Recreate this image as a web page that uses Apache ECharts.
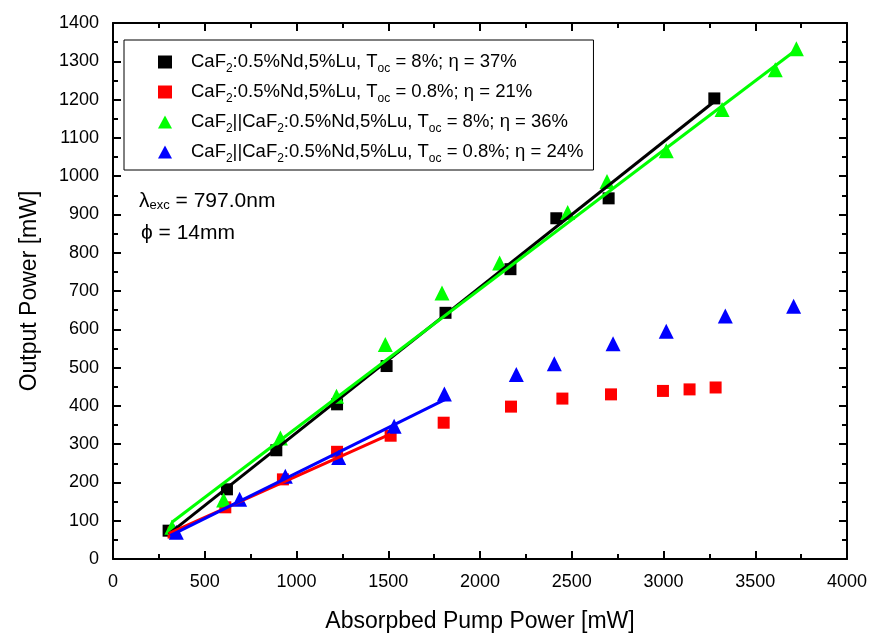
<!DOCTYPE html>
<html><head><meta charset="utf-8">
<script src="https://cdn.jsdelivr.net/npm/echarts@6/dist/echarts.min.js"></script>
<style>html,body{margin:0;padding:0;background:#fff}#c{width:872px;height:638px}</style>
</head><body><div id="c"></div>
<script>
// ---- data ----
var blackX = [303, 621, 890, 1221, 1491, 1812, 2166, 2416, 2701, 3277];
var blackY = [74, 182, 284, 404, 504, 643, 757, 890, 942, 1203];
var redX = [330, 612, 926, 1221, 1513, 1802, 2169, 2449, 2714, 2997, 3142, 3284];
var redY = [69, 135, 208, 280, 322, 356, 398, 419, 430, 439, 443, 448];
var greenX = [321, 603, 912, 1218, 1484, 1793, 2107, 2478, 2692, 3015, 3319, 3609, 3724];
var greenY = [83, 154, 316, 425, 560, 695, 773, 905, 986, 1066, 1174, 1278, 1333];
var blueX = [345, 690, 939, 1230, 1532, 1806, 2198, 2405, 2725, 3015, 3337, 3709];
var blueY = [70, 156, 216, 265, 347, 431, 482, 510, 562, 595, 635, 660];
// linear fits (endpoints)
var fitBlackX = [303, 3277], fitBlackY = [65, 1195];
var fitRedX = [303, 1511], fitRedY = [66, 326];
var fitGreenX = [321, 3724], fitGreenY = [96, 1330];
var fitBlueX = [312, 1811], fitBlueY = [61, 417];
var names = [
  'CaF{s|2}:0.5%Nd,5%Lu, T{s|oc} = 8%; η = 37%',
  'CaF{s|2}:0.5%Nd,5%Lu, T{s|oc} = 0.8%; η = 21%',
  'CaF{s|2}||CaF{s|2}:0.5%Nd,5%Lu, T{s|oc} = 8%; η = 36%',
  'CaF{s|2}||CaF{s|2}:0.5%Nd,5%Lu, T{s|oc} = 0.8%; η = 24%'
];
var xTicks = [0, 4000, 500];
var yTicks = [0, 1400, 100];

function zip(a, b) { return a.map(function (v, i) { return [v, b[i]]; }); }
var FONT = '"Liberation Sans", Arial, sans-serif';
var chart = echarts.init(document.getElementById('c'));
function axisCommon(show) {
  return {
    axisLine: { show: true, onZero: false, lineStyle: { color: '#000', width: 2 } },
    axisTick: { show: true, inside: true, length: 8, lineStyle: { color: '#000', width: 2 } },
    minorTick: { show: true, splitNumber: 2, length: 5, lineStyle: { color: '#000', width: 2 } },
    splitLine: { show: false },
    axisLabel: { show: show, color: '#000', fontSize: 18, fontFamily: FONT, margin: 14,
      formatter: function (v) { return String(v); } }
  };
}
var xb = Object.assign({ type: 'value', position: 'bottom', min: xTicks[0], max: xTicks[1], interval: xTicks[2],
  name: 'Absorpbed Pump Power [mW]', nameLocation: 'middle', nameGap: 51,
  nameTextStyle: { color: '#000', fontSize: 23, fontFamily: FONT } }, axisCommon(true));
var xt = Object.assign({ type: 'value', position: 'top', min: xTicks[0], max: xTicks[1], interval: xTicks[2] }, axisCommon(false));
var yl = Object.assign({ type: 'value', position: 'left', min: yTicks[0], max: yTicks[1], interval: yTicks[2],
  name: 'Output Power [mW]', nameLocation: 'middle', nameGap: 72,
  nameTextStyle: { color: '#000', fontSize: 23, fontFamily: FONT } }, axisCommon(true));
var yr = Object.assign({ type: 'value', position: 'right', min: yTicks[0], max: yTicks[1], interval: yTicks[2] }, axisCommon(false));

function scat(i, color, sym, xs, ys, size) {
  return { type: 'scatter', name: names[i], symbol: sym, symbolSize: size, data: zip(xs, ys),
    itemStyle: { color: color, opacity: 1 }, z: 2, silent: true };
}
function fit(color, xs, ys) {
  return { type: 'line', data: zip(xs, ys), symbol: 'none', lineStyle: { color: color, width: 3 }, z: 3, silent: true };
}
chart.setOption({
  animation: false,
  backgroundColor: '#fff',
  grid: { left: 113, right: 25, top: 23, bottom: 78 },
  xAxis: [xb, xt],
  yAxis: [yl, yr],
  legend: {
    orient: 'vertical', left: 124, top: 40,
    padding: [9, 10, 5, 34], itemGap: 4,
    borderColor: '#000', borderWidth: 1, backgroundColor: '#fff',
    itemWidth: 14, itemHeight: 13,
    data: [
      { name: names[0], icon: 'rect' },
      { name: names[1], icon: 'rect' },
      { name: names[2], icon: 'triangle' },
      { name: names[3], icon: 'triangle' }
    ],
    formatter: function (n) { return n; },
    textStyle: {
      color: '#000', fontSize: 18.5, fontFamily: FONT, padding: [0, 0, 0, 14], lineHeight: 26,
      rich: {
        s: { fontSize: 12, fontFamily: FONT, color: '#000', verticalAlign: 'bottom', lineHeight: 10 }
      }
    }
  },
  graphic: [
    { type: 'text', left: 139, top: 191, style: {
      text: 'λ{s|exc} = 797.0nm', fill: '#000', font: '21px ' + FONT,
      rich: { s: { fontSize: 13, fontFamily: FONT, verticalAlign: 'bottom', lineHeight: 12, fill: '#000' } } } },
    { type: 'text', left: 141, top: 223, style: { text: 'ϕ = 14mm', fill: '#000', font: '21px ' + FONT } }
  ],
  series: [
    scat(0, '#000000', 'rect', blackX, blackY, 12),
    scat(1, '#ff0000', 'rect', redX, redY, 12),
    scat(2, '#00ff00', 'triangle', greenX, greenY, 15),
    scat(3, '#0000ff', 'triangle', blueX, blueY, 15),
    fit('#000000', fitBlackX, fitBlackY),
    fit('#ff0000', fitRedX, fitRedY),
    fit('#00ff00', fitGreenX, fitGreenY),
    fit('#0000ff', fitBlueX, fitBlueY)
  ]
});
</script></body></html>
